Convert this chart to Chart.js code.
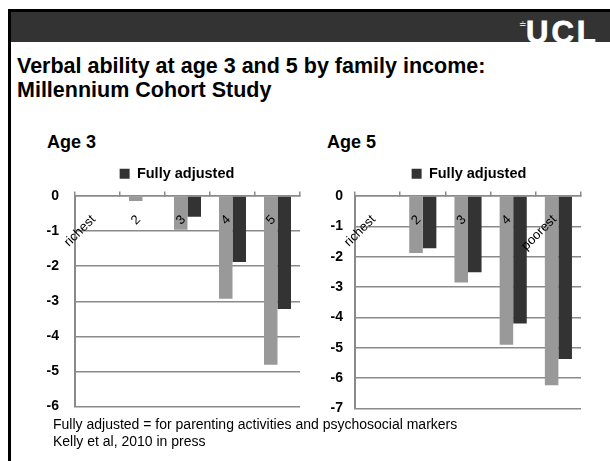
<!DOCTYPE html>
<html>
<head>
<meta charset="utf-8">
<script src="https://cdn.jsdelivr.net/npm/chart.js@4.4.1/dist/chart.umd.min.js"></script>
<style>
  html, body { margin: 0; padding: 0; background: #fff; }
  body { width: 610px; height: 461px; position: relative; overflow: hidden;
         font-family: 'Liberation Sans', Arial, sans-serif; color: #000; }
  .abs { position: absolute; white-space: nowrap; }
  #header { left: 8px; top: 9px; width: 610px; height: 30px; background: #333;
            border-top: 3px solid #000; border-left: 3px solid #000; }
  #leftrule { left: 8px; top: 9px; width: 3px; height: 460px; background: #000; }
  #ucl { left: 526px; top: 17px; font-size: 31px; line-height: 31px; font-weight: bold;
         letter-spacing: 3px; color: #fff; -webkit-text-stroke: 0.8px #fff; }
  #portico { left: 519px; top: 20px; font-size: 9px; line-height: 9px; color: #fff;
             font-family: 'DejaVu Sans', sans-serif; }
  #title { left: 17px; top: 54px; font-size: 21.5px; line-height: 24px; font-weight: bold; }
  .age { top: 132px; font-size: 18px; line-height: 20px; font-weight: bold; }
  #note { left: 53px; top: 416px; font-size: 14px; line-height: 17px; }
  canvas { position: absolute; }
</style>
</head>
<body>
<div class="abs" id="header"></div>
<div class="abs" id="leftrule"></div>
<div class="abs" id="portico">≐</div>
<div class="abs" id="ucl">UCL</div>
<div class="abs" id="title">Verbal ability at age 3 and 5 by family income:<br>Millennium Cohort Study</div>
<div class="abs age" style="left:47px">Age 3</div>
<div class="abs age" style="left:327px">Age 5</div>
<canvas id="age3" width="273" height="280" style="left:44px;top:151px"></canvas>
<canvas id="age5" width="293" height="278" style="left:325px;top:151px"></canvas>
<div class="abs" id="note">Fully adjusted = for parenting activities and psychosocial markers<br>Kelly et al, 2010 in press</div>
<script>
const incomeAge3 = ['richest', '2', '3', '4', '5'];
const incomeAge5 = ['richest', '2', '3', '4', 'poorest'];
const unadjustedAge3 = [0, -0.14, -0.96, -2.93, -4.81];
const adjustedAge3 = [0, 0, -0.59, -1.88, -3.22];
const unadjustedAge5 = [0, -1.88, -2.85, -4.9, -6.23];
const adjustedAge5 = [0, -1.72, -2.51, -4.2, -5.37];
const yMinAge3 = -6;
const yMinAge5 = -7;

const FONT = "'Liberation Sans', Arial, sans-serif";
const GRID = '#8a8a8a';

// the legend in the slide is not centred over the plot, so shift it a bit
const legendNudge = {
  id: 'legendNudge',
  afterLayout(chart, args, opts) {
    const lg = chart.legend;
    if (!lg) return;
    lg.left += opts.dx;
    lg.right += opts.dx;
    lg.top += opts.dy;
    lg.bottom += opts.dy;
  },
};

function makeChart(id, labels, unadj, adj, yMin, axisWidth, tickPad, padRight, dx) {
  return new Chart(document.getElementById(id), {
    type: 'bar',
    plugins: [legendNudge],
    data: {
      labels: labels,
      datasets: [
        { label: 'Unadjusted', data: unadj, backgroundColor: '#999999', borderWidth: 0,
          barPercentage: 1, categoryPercentage: 0.6 },
        { label: 'Fully adjusted', data: adj, backgroundColor: '#333333', borderWidth: 0,
          barPercentage: 1, categoryPercentage: 0.6 },
      ],
    },
    options: {
      responsive: false,
      animation: false,
      layout: { padding: { left: 0, right: padRight, top: 0, bottom: 3 } },
      scales: {
        x: {
          position: { y: 0 },
          grid: { drawOnChartArea: false, drawTicks: true, tickLength: -5, color: GRID, lineWidth: 1.5 },
          border: { color: GRID, width: 1.5 },
          ticks: {
            z: 1, // category names are painted over the bars
            autoSkip: false,
            minRotation: 45,
            maxRotation: 45,
            padding: 21,
            labelOffset: -4,
            color: '#000',
            font: { family: FONT, size: 13 },
          },
        },
        y: {
          min: yMin,
          max: 0,
          grid: { color: GRID, lineWidth: 1.5, drawTicks: false },
          border: { color: GRID, width: 2 },
          ticks: {
            stepSize: 1,
            padding: tickPad,
            color: '#000',
            font: { family: FONT, size: 14, weight: 'bold' },
          },
          afterFit: (scale) => { scale.width = axisWidth; },
        },
      },
      plugins: {
        legend: {
          position: 'top',
          labels: {
            boxWidth: 10,
            boxHeight: 10,
            padding: 20.5,
            color: '#000',
            font: { family: FONT, size: 14.5, weight: 'bold' },
            filter: (item) => item.datasetIndex === 1,
          },
        },
        legendNudge: { dx: dx, dy: -5 },
        tooltip: { enabled: false },
      },
    },
  });
}

makeChart('age3', incomeAge3, unadjustedAge3, adjustedAge3, yMinAge3, 31, 16, 17, 5);
makeChart('age5', incomeAge5, unadjustedAge5, adjustedAge5, yMinAge5, 30, 12, 37, 16);
</script>
</body>
</html>
